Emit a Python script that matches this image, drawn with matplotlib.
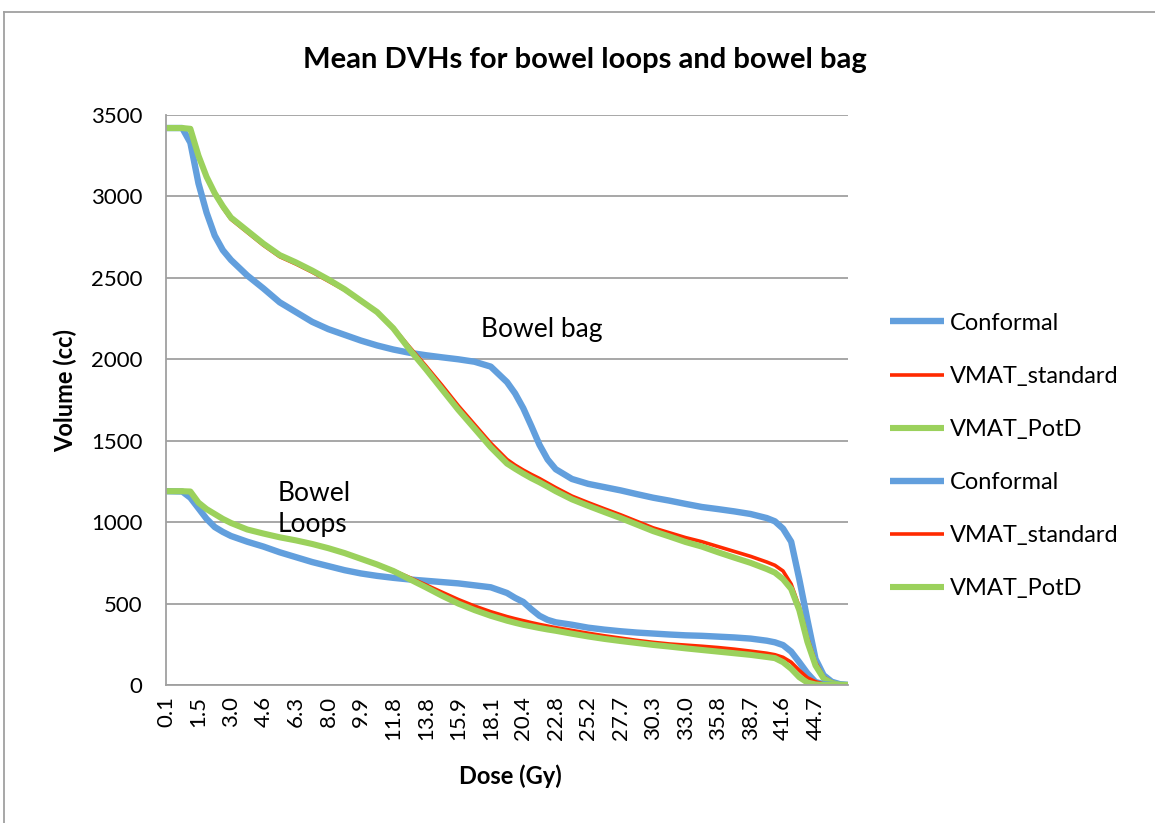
import matplotlib
matplotlib.use('Agg')
import matplotlib.pyplot as plt
from matplotlib.lines import Line2D

plt.rcParams['font.family'] = ['Lato', 'DejaVu Sans']

# asse categorie: 85 punti di dose, etichetta ogni 4 categorie
dose_labels = ['0.1', '1.5', '3.0', '4.6', '6.3', '8.0', '9.9', '11.8', '13.8', '15.9', '18.1',
               '20.4', '22.8', '25.2', '27.7', '30.3', '33.0', '35.8', '38.7', '41.6', '44.7']
n_categories = 85

# indice di categoria dei punti letti
cat_idx = [0, 2, 3, 4, 5, 6, 7, 8, 10, 12, 14, 16, 18, 20, 22, 24, 26, 28, 30, 32, 34, 36, 38,
           40, 42, 43, 44, 45, 46, 47, 48, 50, 52, 54, 56, 58, 60, 62, 64, 66, 68, 70, 72, 74,
           75, 76, 77, 78, 79, 80, 81, 82, 83, 84]

# Bowel bag
bag_conformal = [3420, 3420, 3330, 3080, 2900, 2760, 2670, 2610, 2515, 2435, 2350, 2290, 2230,
                 2185, 2150, 2115, 2085, 2060, 2040, 2025, 2012, 2000, 1985, 1955, 1860, 1790,
                 1700, 1590, 1475, 1385, 1325, 1265, 1235, 1215, 1195, 1172, 1150, 1132, 1112,
                 1093, 1080, 1066, 1050, 1025, 1005, 960, 880, 650, 400, 160, 60, 20, 5, 0]
bag_standard = [3420, 3420, 3420, 3250, 3120, 3020, 2930, 2860, 2780, 2700, 2630, 2585, 2535,
                2480, 2425, 2355, 2290, 2195, 2075, 1960, 1840, 1715, 1600, 1485, 1385, 1350,
                1320, 1293, 1268, 1240, 1212, 1160, 1120, 1082, 1045, 1005, 965, 935, 905, 880,
                850, 820, 790, 755, 735, 700, 620, 480, 290, 140, 50, 18, 5, 0]
bag_potd = [3420, 3420, 3415, 3250, 3120, 3020, 2940, 2870, 2790, 2710, 2640, 2595, 2545, 2490,
            2430, 2360, 2290, 2190, 2060, 1940, 1815, 1690, 1575, 1460, 1360, 1328, 1298, 1270,
            1245, 1218, 1190, 1140, 1100, 1062, 1025, 985, 945, 912, 878, 850, 815, 782, 750,
            712, 690, 650, 590, 460, 265, 120, 40, 12, 2, 0]

# Bowel loops
loops_conformal = [1190, 1188, 1150, 1085, 1020, 970, 940, 915, 880, 850, 815, 785, 755, 730,
                   705, 685, 670, 658, 648, 640, 632, 624, 612, 600, 565, 535, 510, 465, 425,
                   400, 385, 370, 352, 340, 330, 322, 316, 310, 305, 302, 297, 292, 285, 272,
                   262, 245, 205, 140, 72, 18, 5, 0, 0, 0]
loops_standard = [1190, 1190, 1188, 1120, 1080, 1050, 1020, 995, 955, 930, 907, 888, 866, 840,
                  810, 777, 742, 703, 660, 615, 570, 525, 485, 450, 420, 407, 395, 383, 372,
                  362, 352, 335, 318, 302, 288, 274, 262, 252, 245, 238, 230, 220, 208, 195,
                  186, 170, 140, 90, 45, 20, 6, 0, 0, 0]
loops_potd = [1190, 1190, 1188, 1120, 1080, 1050, 1020, 995, 955, 930, 907, 888, 866, 840, 810,
              775, 740, 700, 650, 600, 548, 500, 460, 425, 395, 382, 370, 360, 350, 341, 333,
              315, 298, 283, 270, 258, 246, 236, 225, 215, 205, 195, 185, 172, 165, 140, 100,
              48, 15, 3, 0, 0, 0, 0]

series_names = ['Conformal', 'VMAT_standard', 'VMAT_PotD']
COLORS = ['#629FDD', '#FF2A00', '#9BD15C']
WIDTHS = [4.6, 2.6, 4.4]

fig = plt.figure(figsize=(11.55, 8.23), dpi=100)
ax = fig.add_axes([166 / 1155, 1 - 685 / 823, (848 - 166) / 1155, (685 - 115) / 823])

for group in ([bag_conformal, bag_standard, bag_potd], [loops_conformal, loops_standard, loops_potd]):
    for vals, name, col, lw in zip(group, series_names, COLORS, WIDTHS):
        ax.plot(cat_idx, vals, color=col, lw=lw, label=name,
                solid_joinstyle='round', solid_capstyle='butt')

ax.set_xlim(0, n_categories - 1)
ax.set_ylim(0, 3500)
ax.set_yticks(range(0, 3501, 500))
ax.set_xticks(range(0, n_categories - 1, 4))
ax.set_xticklabels(dose_labels, rotation=90)
ax.tick_params(length=0, labelsize=16, colors='#000000')
ax.tick_params(axis='x', pad=8)
ax.tick_params(axis='y', pad=17)
ax.grid(axis='y', color='#A0A0A0', lw=1.3)
ax.set_axisbelow(True)
for s in ['top', 'right']:
    ax.spines[s].set_visible(False)
for s in ['left', 'bottom']:
    ax.spines[s].set_color('#A0A0A0')
    ax.spines[s].set_linewidth(1.3)

fig.text(0.506, 1 - 60 / 823, 'Mean DVHs for bowel loops and bowel bag',
         ha='center', va='center', fontsize=21, fontweight='bold')
fig.text(65 / 1155, 1 - 390 / 823, 'Volume (cc)', rotation=90, ha='center', va='center',
         fontsize=17, fontweight='bold')
fig.text(510 / 1155, 1 - 776 / 823, 'Dose (Gy)', ha='center', va='center',
         fontsize=17, fontweight='bold')

# etichette delle strutture
fig.text(481 / 1155, 1 - 330 / 823, 'Bowel bag', ha='left', va='center', fontsize=19)
fig.text(278 / 1155, 1 - 509 / 823, 'Bowel\nLoops', ha='left', va='center', fontsize=19,
         linespacing=1.3)

ax.legend(loc='center left', bbox_to_anchor=(890 / 1155, 1 - 456 / 823),
          bbox_transform=fig.transFigure, frameon=False, fontsize=17,
          handlelength=2.3, handletextpad=0.25, labelspacing=1.36, borderpad=0, borderaxespad=0)

# cornice del grafico (solo bordo sinistro e superiore visibili)
fig.add_artist(Line2D([4 / 1155, 4 / 1155], [0, 1 - 12 / 823], color='#A0A0A0', lw=1.3))
fig.add_artist(Line2D([4 / 1155, 1], [1 - 12 / 823, 1 - 12 / 823], color='#A0A0A0', lw=1.3))

fig.savefig('out.png', dpi=100)
